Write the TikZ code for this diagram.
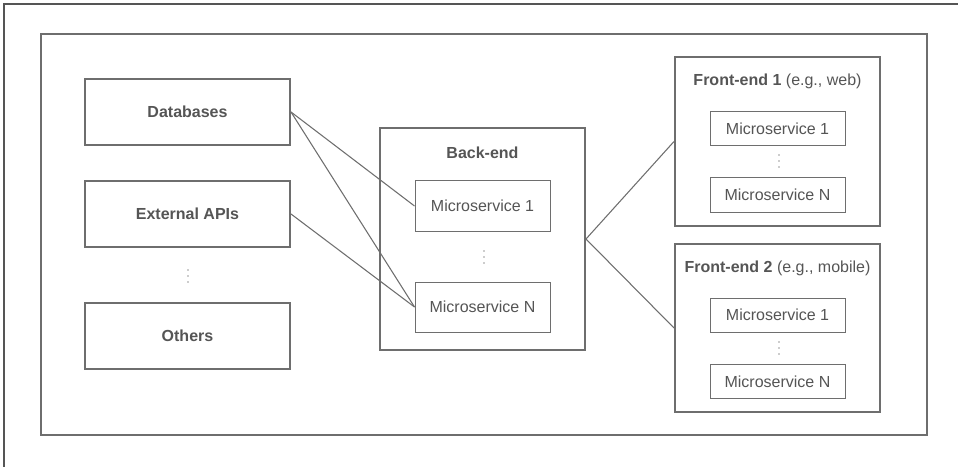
\documentclass[tikz,border=0pt]{standalone}
\usepackage{fontspec}
\setmainfont{Liberation Sans}
\usetikzlibrary{calc}
\begin{document}
\definecolor{edge}{HTML}{6E6E6E}
\definecolor{ink}{HTML}{555555}
\begin{tikzpicture}[x=0.75pt,y=-0.75pt,
  frame/.style={draw=edge,line width=1.5pt},
  block/.style={draw=edge,line width=1.5pt,fill=white,inner sep=0pt,text=ink,font=\bfseries\fontsize{12}{14}\selectfont},
  group/.style={draw=edge,line width=1.5pt,inner sep=0pt},
  svc/.style={draw=edge,line width=0.75pt,fill=white,inner sep=0pt,text=ink,font=\fontsize{12}{14}\selectfont,minimum width=101.25pt,minimum height=37.5pt},
  svcs/.style={svc,minimum height=25.5pt},
  title/.style={text=ink,inner sep=0pt,font=\fontsize{12}{14}\selectfont},
  link/.style={draw=edge,line width=0.8pt}]
\useasboundingbox (0,0) rectangle (958,467);
% three stacked dots around a named point
\newcommand{\stackdots}[1]{%
  \foreach \d in {-6,0,6} \fill[ink!60] ($(#1)+(0,\d)$) circle[radius=0.9];}
% page edge
\draw[draw=ink,line width=0.9pt] (4,467) -- (4,4) -- (958,4);
% enclosing system box
\draw[frame] (41,34) rectangle (927,435);

% data sources
\node[block,minimum width=153.75pt,minimum height=49.5pt] (db) at (187.5,112) {Databases};
\node[block,minimum width=153.75pt,minimum height=49.5pt] (api) at (187.5,214) {External APIs};
\coordinate (srcdots) at (188,276);
\node[block,minimum width=153.75pt,minimum height=49.5pt] (oth) at (187.5,336) {Others};

% back-end
\node[group,minimum width=153.75pt,minimum height=166.5pt] (be) at (482.5,239) {};
\node[title] (betitle) at (482.5,153) {\bfseries Back-end};
\node[svc] (bems1) at (482.5,206) {Microservice 1};
\coordinate (bedots) at (484,257);
\node[svc] (bemsn) at (482.5,307) {Microservice N};

% front-end 1
\node[group,minimum width=153.75pt,minimum height=126.75pt] (fa) at (777.5,141.5) {};
\node[title] (fatitle) at (777.5,81) {\textbf{Front-end 1} (e.g., web)};
\node[svcs] (fams1) at (777.5,129) {Microservice 1};
\coordinate (fadots) at (779,161);
\node[svcs] (famsn) at (777.5,195) {Microservice N};

% front-end 2
\node[group,minimum width=153.75pt,minimum height=126pt] (fb) at (777.5,328) {};
\node[title] (fbtitle) at (777.5,268) {\textbf{Front-end 2} (e.g., mobile)};
\node[svcs] (fbms1) at (777.5,315) {Microservice 1};
\coordinate (fbdots) at (779,348);
\node[svcs] (fbmsn) at (777.5,381.5) {Microservice N};

\stackdots{srcdots}
\stackdots{bedots}
\stackdots{fadots}
\stackdots{fbdots}

% connections
\draw[link] (db.east) -- (bems1.west);
\draw[link] (db.east) -- (bemsn.west);
\draw[link] (api.east) -- (bemsn.west);
\draw[link] (be.east) -- (fa.west);
\draw[link] (be.east) -- (fb.west);
\end{tikzpicture}
\end{document}
